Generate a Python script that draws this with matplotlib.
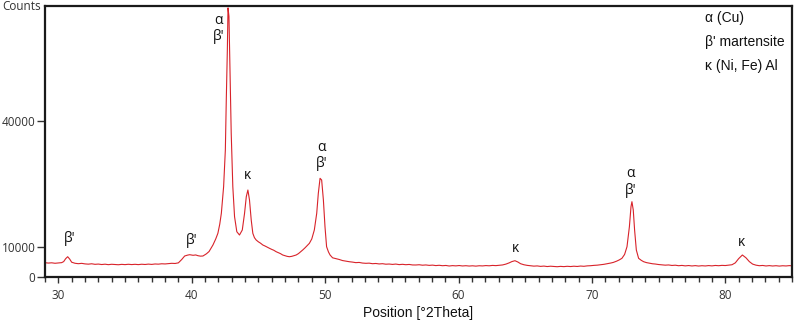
import matplotlib
matplotlib.use("Agg")
import matplotlib.pyplot as plt
from matplotlib.ticker import FixedLocator, MultipleLocator

# 2theta positions (deg) and intensities (counts)
two_theta = [
    29.0, 29.25, 29.5, 29.75, 30.0, 30.25, 30.4, 30.55, 30.7, 30.85, 31.0, 31.25, 31.5, 31.75,
    32.0, 32.25, 32.5, 32.75, 33.0, 33.25, 33.5, 33.75, 34.0, 34.25, 34.5, 34.75, 35.0, 35.25,
    35.5, 35.75, 36.0, 36.25, 36.5, 36.75, 37.0, 37.25, 37.5, 37.75, 38.0, 38.25, 38.5, 38.75,
    39.0, 39.25, 39.47, 39.7, 39.85, 40.1, 40.3, 40.47, 40.65, 40.84, 41.0, 41.1, 41.3, 41.59,
    41.8, 41.96, 42.1, 42.22, 42.39, 42.52, 42.59, 42.67, 42.72, 42.79, 42.86, 42.96, 43.08,
    43.21, 43.38, 43.58, 43.79, 43.96, 44.09, 44.21, 44.33, 44.46, 44.58, 44.7, 44.83, 45.0,
    45.15, 45.33, 45.5, 45.65, 45.83, 46.0, 46.15, 46.33, 46.5, 46.65, 46.82, 47.0, 47.15,
    47.32, 47.5, 47.65, 47.83, 48.0, 48.15, 48.32, 48.5, 48.65, 48.82, 49.0, 49.19, 49.37,
    49.49, 49.62, 49.74, 49.87, 49.99, 50.11, 50.25, 50.37, 50.56, 50.8, 51.06, 51.3, 51.55,
    51.81, 52.05, 52.3, 52.55, 52.8, 53.06, 53.3, 53.55, 53.8, 54.05, 54.3, 54.55, 54.8, 55.05,
    55.3, 55.55, 55.8, 56.05, 56.3, 56.55, 56.8, 57.05, 57.3, 57.55, 57.8, 58.05, 58.3, 58.55,
    58.8, 59.05, 59.3, 59.55, 59.8, 60.05, 60.3, 60.55, 60.8, 61.05, 61.3, 61.55, 61.8, 62.05,
    62.3, 62.55, 62.8, 63.05, 63.3, 63.55, 63.8, 64.0, 64.23, 64.45, 64.65, 64.9, 65.15, 65.4,
    65.65, 65.9, 66.15, 66.4, 66.65, 66.9, 67.15, 67.4, 67.65, 67.9, 68.15, 68.4, 68.65, 68.9,
    69.15, 69.4, 69.65, 69.9, 70.15, 70.4, 70.65, 70.9, 71.15, 71.4, 71.6, 71.85, 72.05, 72.25,
    72.45, 72.63, 72.81, 72.93, 73.0, 73.1, 73.2, 73.33, 73.5, 73.7, 73.88, 74.1, 74.35, 74.55,
    74.75, 75.0, 75.25, 75.5, 75.75, 76.0, 76.25, 76.5, 76.75, 77.0, 77.25, 77.5, 77.75, 78.0,
    78.25, 78.5, 78.75, 79.0, 79.25, 79.5, 79.75, 80.0, 80.25, 80.5, 80.75, 81.0, 81.28, 81.55,
    81.8, 82.05, 82.3, 82.55, 82.8, 83.05, 83.3, 83.55, 83.8, 84.05, 84.3, 84.55, 84.8, 85.0,
]
counts = [
    6330, 6250, 6310, 6200, 6280, 6350, 6600, 7300, 7760, 7200, 6450, 6200, 6100, 6180,
    6050, 5990, 6080, 5950, 6010, 5900, 5980, 5870, 5960, 5900, 5850, 5940, 5880, 5960,
    5890, 5950, 5880, 5970, 5910, 6000, 5930, 6030, 5990, 6080, 6040, 6120, 6190, 6150,
    6300, 7100, 7930, 8150, 8240, 8100, 8180, 8000, 7900, 7930, 8250, 8450, 9000, 10550,
    12000, 13330, 15500, 18100, 24430, 33170, 45070, 56980, 67000, 65000, 53000, 37140, 24430,
    17290, 13710, 12930, 14120, 18100, 22050, 23640, 21260, 16500, 13330, 12300, 11740, 11300,
    11000, 10550, 10300, 10050, 9760, 9500, 9300, 8950, 8700, 8500, 8170, 8000, 7850,
    7760, 7850, 8000, 8170, 8500, 8900, 9360, 9900, 10400, 10950, 12000, 14120, 18100,
    22860, 26430, 26020, 21260, 14900, 10140, 8900, 8170, 7500, 7300, 7100, 6850, 6700,
    6570, 6480, 6350, 6400, 6250, 6190, 6230, 6100, 6150, 6040, 6100, 5980, 6020, 5930,
    6010, 5880, 5950, 5860, 5920, 5800, 5790, 5850, 5740, 5800, 5700, 5760, 5650, 5720,
    5620, 5680, 5550, 5640, 5580, 5660, 5560, 5620, 5540, 5600, 5520, 5610, 5570, 5650,
    5600, 5690, 5640, 5730, 5800, 6000, 6300, 6600, 6810, 6500, 6100, 5850, 5700, 5600,
    5520, 5570, 5460, 5530, 5420, 5500, 5440, 5380, 5460, 5400, 5480, 5420, 5500, 5440,
    5540, 5480, 5580, 5620, 5700, 5750, 5850, 5950, 6100, 6250, 6400, 6700, 7000, 7380,
    8300, 10140, 14900, 19670, 20860, 18880, 14120, 9360, 7380, 6900, 6570, 6350, 6200, 6080,
    6020, 5900, 5820, 5750, 5800, 5680, 5740, 5620, 5690, 5580, 5660, 5560, 5640, 5540,
    5620, 5560, 5650, 5580, 5680, 5620, 5700, 5660, 5750, 5850, 6300, 7300, 8170, 7500,
    6600, 6000, 5750, 5620, 5680, 5560, 5640, 5550, 5620, 5530, 5610, 5560, 5640, 5590,
]

# phase labels: text and the (2theta, counts) spot where each sits
peak_labels = ["β'", "β'", "α\nβ'", "κ", "α\nβ'", "κ", "α\nβ'", "κ"]
label_x = [30.87, 39.99, 42.01, 44.18, 49.72, 64.3, 72.9, 81.2]
label_y = [11980, 11740, 62200, 27200, 31900, 9830, 25550, 11260]

legend_lines = ["α (Cu)", "β' martensite", "κ (Ni, Fe) Al"]

y_ticks = [2860, 10000, 40000]
y_tick_labels = ["0", "10000", "40000"]

fig = plt.figure(figsize=(7.96, 3.25), dpi=100)
ax = fig.add_axes([45 / 796, 47.7 / 325, 747 / 796, 271.3 / 325])

ax.plot(two_theta, counts, color="#d8232a", linewidth=0.8)

ax.set_xlim(29, 85)
ax.set_ylim(2860, 67450)

ax.xaxis.set_major_locator(MultipleLocator(10))
ax.xaxis.set_minor_locator(MultipleLocator(1))
ax.yaxis.set_major_locator(FixedLocator(y_ticks))
ax.set_yticklabels(y_tick_labels)

for side in ax.spines.values():
    side.set_linewidth(1.6)
    side.set_color("#1a1a1a")

ax.tick_params(axis="x", which="major", direction="out", length=4, width=1,
               pad=4.5, labelsize=8.5, colors="#333333")
ax.tick_params(axis="x", which="minor", direction="out", length=3.5, width=1, colors="#333333")
ax.tick_params(axis="y", which="major", direction="out", length=6, width=1,
               pad=1, labelsize=8.5, colors="#333333")
for lbl in ax.get_xticklabels() + ax.get_yticklabels():
    lbl.set_family("Open Sans")

ax.set_xlabel("Position [°2Theta]", family="Liberation Sans", fontsize=10,
              color="#111111", labelpad=3)
fig.text(2 / 796, 1 - 6 / 325, "Counts", family="Open Sans", fontsize=8.5,
         color="#333333", ha="left", va="center")

for txt, px, py in zip(peak_labels, label_x, label_y):
    ax.text(px, py, txt, ha="center", va="center", fontsize=10,
            family=["Open Sans", "DejaVu Sans"], color="#111111", linespacing=1.1)

for i, txt in enumerate(legend_lines):
    ax.text(0.8835, 0.9557 - i * 0.088, txt, transform=ax.transAxes, ha="left", va="center",
            fontsize=10, family="Liberation Sans", color="#111111")

fig.savefig("out.png", dpi=100)
